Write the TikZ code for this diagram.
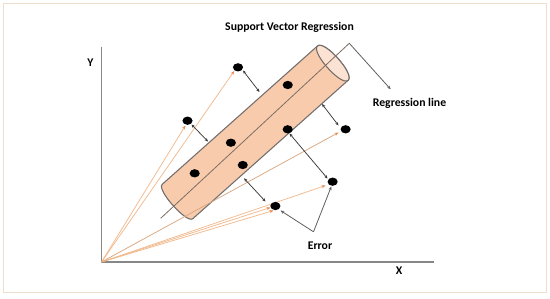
\documentclass[tikz,border=0pt]{standalone}
\usepackage{fontspec}
\setmainfont{Carlito}
\usetikzlibrary{arrows.meta,shapes.geometric}
\definecolor{tubefill}{RGB}{248,203,173}
\definecolor{capfill}{RGB}{252,226,210}
\definecolor{tubeline}{RGB}{115,110,108}
\definecolor{regcol}{RGB}{125,110,100}
\definecolor{raycol}{RGB}{242,185,140}
\definecolor{raytip}{RGB}{232,140,80}
\definecolor{errcol}{RGB}{55,55,55}
\definecolor{axiscol}{RGB}{135,135,135}
\definecolor{bordercol}{RGB}{240,222,204}
\begin{document}
\begin{tikzpicture}[x=0.75pt,y=-0.75pt,
  lbl/.style={font=\bfseries\fontsize{8.8}{10}\selectfont, inner sep=0pt, anchor=base},
  dotn/.style={ellipse, fill=black, draw=none, minimum width=7.6pt, minimum height=6.2pt, inner sep=0pt},
  ray/.style={draw=raycol, line width=0.55pt, -{Stealth[length=3pt,width=2.4pt,color=raytip]}},
  err/.style={draw=errcol, line width=0.55pt, {Stealth[length=2.6pt,width=2.2pt]}-{Stealth[length=2.6pt,width=2.2pt]}},
  callout/.style={draw=errcol!80, line width=0.6pt, -{Stealth[length=2.8pt,width=2.3pt]}},
  axisline/.style={draw=axiscol, line width=0.8pt}
]
\useasboundingbox (0,0) rectangle (550,298);
\fill[white] (0,0) rectangle (550,298);
\draw[draw=bordercol, line width=1.1pt] (3.5,3.5) rectangle (546.3,292.3);

% axes
\coordinate (O) at (101.5,262);
\coordinate (ytop) at (101.5,46.7);
\coordinate (xend) at (434,262);
\draw[axisline] (ytop) -- (O) -- (xend);
\node[lbl] (ylab) at (90.5,66.5) {Y};
\node[lbl] (xlab) at (399,274.5) {X};

% orange rays (behind the tube)
\coordinate (r1) at (234.2,71);
\coordinate (r3) at (185.5,125.5);
\coordinate (r6) at (338.5,132.5);
\coordinate (r9) at (325.5,185.5);
\coordinate (r10a) at (270.5,207.5);
\coordinate (r10b) at (273.5,210.5);
\draw[ray] (O) -- (r1);
\draw[ray] (O) -- (r3);
\draw[ray] (O) -- (r9);
\draw[ray] (O) -- (r10a);
\draw[ray] (O) -- (r10b);

% tube
\begin{scope}[shift={(177.5,201.5)}, rotate=41.7]
  \path[draw=tubeline, line width=0.8pt, fill=tubefill]
    (0,-23) -- (208,-23)
    .. controls (217.3,-23) and (217.3,23) .. (208,23)
    -- (0,23)
    .. controls (-8,23) and (-8,-23) .. (0,-23) -- cycle;
  \path[draw=tubeline, line width=0.8pt, fill=capfill]
    (208,-23) .. controls (217.3,-23) and (217.3,23) .. (208,23)
    .. controls (198.7,23) and (198.7,-23) .. (208,-23) -- cycle;
\end{scope}
\draw[ray, draw=raycol!90!black] (O) -- (r6);

% regression line
\coordinate (rl0) at (160.7,218.3);
\coordinate (rl1) at (349.3,43.3);
\draw[draw=regcol, line width=0.6pt] (rl0) -- (rl1);
\coordinate (rlend) at (390.7,89.3);
\draw[callout] (rl1) -- (rlend);

% data points
\node[dotn] (d1) at (238,67.3) {};
\node[dotn] (d2) at (287.7,85) {};
\node[dotn] (d3) at (187.5,120.7) {};
\node[dotn] (d4) at (230.9,142.7) {};
\node[dotn] (d5) at (287.7,129.3) {};
\node[dotn] (d6) at (345.6,129.3) {};
\node[dotn] (d7) at (194.7,173.3) {};
\node[dotn] (d8) at (242.8,165) {};
\node[dotn] (d9) at (332.6,181.7) {};
\node[dotn] (d10) at (275.4,206) {};

% error arrows
\coordinate (t1a) at (243,70.5);
\coordinate (t1b) at (259.5,92);
\coordinate (t3a) at (191.5,124.5);
\coordinate (t3b) at (208,141.5);
\coordinate (t6a) at (322,104);
\coordinate (t6b) at (338.5,125.5);
\coordinate (t5a) at (289.5,133.5);
\coordinate (t9a) at (327.5,178.5);
\coordinate (t10a) at (244,178.3);
\coordinate (t10b) at (265.5,201.5);
\draw[err] (t1a) -- (t1b);
\draw[err] (t3a) -- (t3b);
\draw[err] (t6a) -- (t6b);
\draw[err] (t5a) -- (t9a);
\draw[err] (t10a) -- (t10b);

% Error callout
\coordinate (eA) at (313.5,231.8);
\coordinate (e10) at (280.5,210.5);
\coordinate (e9) at (331.3,186.5);
\draw[callout] (eA) -- (e10);
\draw[callout] (eA) -- (e9);

% labels
\node[lbl] (title) at (289.5,30.8) {Support Vector Regression};
\node[lbl] (regl) at (409.5,106.3) {Regression line};
\node[lbl] (errl) at (320,249.3) {Error};
\end{tikzpicture}
\end{document}
